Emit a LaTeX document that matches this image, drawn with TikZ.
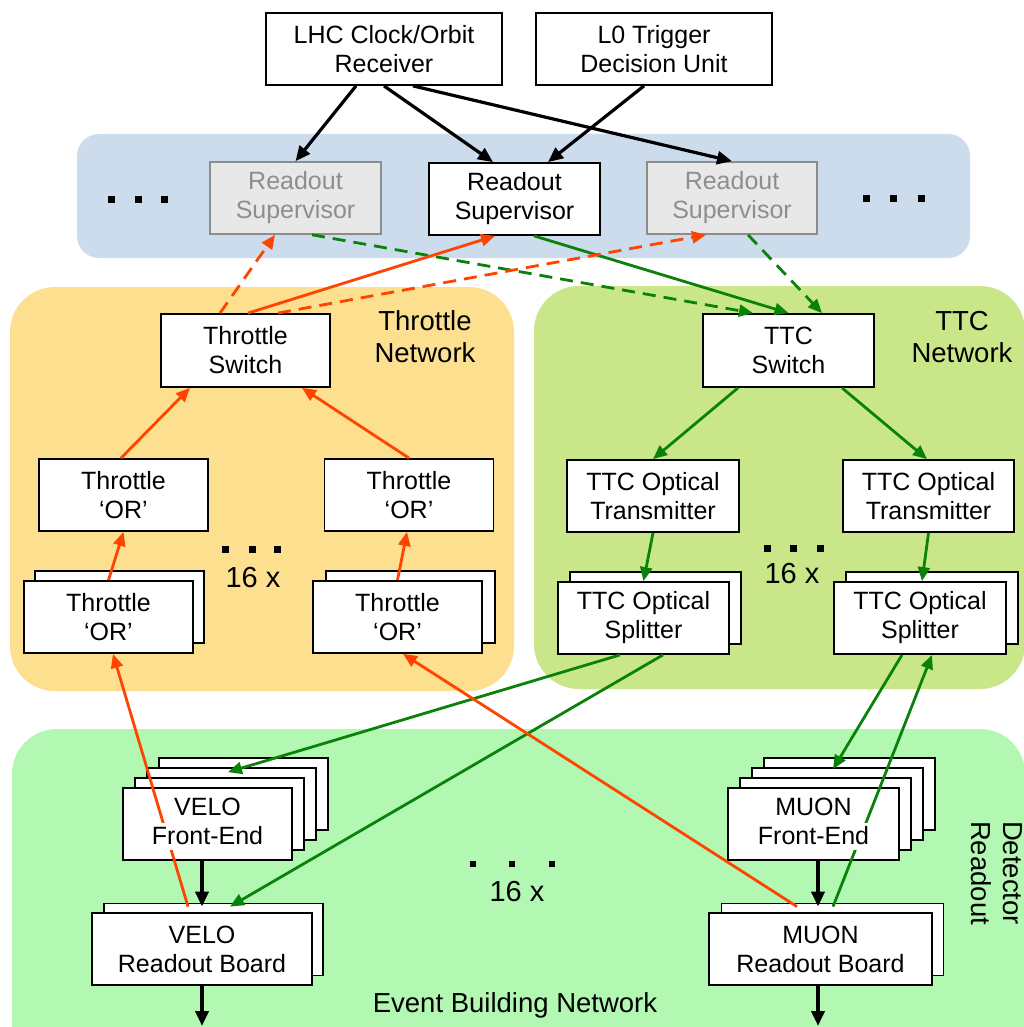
\documentclass[tikz,border=0pt]{standalone}
\usepackage{fontspec}
\setmainfont{Liberation Sans}
\usetikzlibrary{arrows.meta,calc}
\definecolor{bandblue}{HTML}{CCDCEC}
\definecolor{bandorange}{HTML}{FCDF8F}
\definecolor{bandttc}{HTML}{C9E789}
\definecolor{banddet}{HTML}{B2F8B2}
\definecolor{linered}{HTML}{FF4300}
\definecolor{linegreen}{HTML}{0A820A}
\definecolor{boxgray}{HTML}{8C8C8C}
\definecolor{fillgray}{HTML}{E8E8E8}
\definecolor{textgray}{HTML}{8E8E8E}
\setlength{\fboxsep}{0pt}
\begin{document}
\begin{tikzpicture}[x=1pt,y=-1pt,
  txt/.style={font=\fontsize{25}{29}\selectfont, align=center, inner sep=0pt},
  lbl/.style={font=\fontsize{27.5}{32}\selectfont, align=center, inner sep=0pt},
  cnt/.style={font=\fontsize{29}{32}\selectfont, inner sep=0pt},
  box/.style={txt, draw=black, line width=1.8pt, fill=white, minimum height=72, minimum width=169},
  graybox/.style={box, draw=boxgray, fill=fillgray, text=textgray, line width=1.6pt},
  conn/.style={line width=2.8pt, -{Triangle[length=14pt,width=12pt]}},
  blk/.style={line width=3.2pt, -{Triangle[length=15pt,width=13pt]}, color=black},
  blkv/.style={line width=4pt, -{Triangle[length=15pt,width=13pt]}, color=black},
  rd/.style={conn, color=linered},
  gr/.style={conn, color=linegreen},
  dsh/.style={dash pattern=on 13pt off 8pt},
  band/.style={rounded corners=45pt}
]
\useasboundingbox (0,0) rectangle (1024,1027);
\fill[white] (0,0) rectangle (1024,1027);

% bands
\fill[bandblue, rounded corners=22pt] (77,134) rectangle (970,258);
\fill[bandorange, band] (10,287) rectangle (514,691);
\fill[bandttc, band] (534,286) rectangle (1025,689);
\fill[banddet, band] (12,729) rectangle (1025,1080);

% top boxes
\node[box, minimum width=236] (lhc) at (384,49) {LHC Clock/Orbit\\Receiver};
\node[box, minimum width=236] (l0) at (654,49) {L0 Trigger\\Decision Unit};
\node[graybox, minimum width=171] (rsl) at (295.5,198) {Readout\\Supervisor};
\node[box, minimum width=171] (rsc) at (514.5,199) {Readout\\Supervisor};
\node[graybox, minimum width=170] (rsr) at (732,198) {Readout\\Supervisor};

% throttle network
\node[box, minimum height=73] (thsw) at (245.5,350.5) {Throttle\\Switch};
\node[box] (torl) at (123.5,495) {Throttle\\‘OR’};
\node[box] (torr) at (409,495) {Throttle\\‘OR’};
\node[box] (tllb) at (119.5,607) {};
\node[box] (tll) at (108.5,617) {Throttle\\‘OR’};
\node[box] (tlrb) at (410.5,607) {};
\node[box] (tlr) at (397.5,617) {Throttle\\‘OR’};

% TTC network
\node[box, minimum width=171, minimum height=73] (ttcsw) at (788.5,350.5) {TTC\\Switch};
\node[box, minimum width=172] (otl) at (653,496) {TTC Optical\\Transmitter};
\node[box, minimum width=171] (otr) at (928.5,496) {TTC Optical\\Transmitter};
\node[box, minimum width=171] (splb) at (655.5,608) {};
\node[box, minimum width=171] (spl) at (643.5,618) {TTC Optical\\Splitter};
\node[box, minimum width=172] (sprb) at (932,608) {};
\node[box, minimum width=172] (spr) at (920,618) {TTC Optical\\Splitter};

% detector readout
\node[box] (vfe3) at (243.5,794) {};
\node[box] (vfe2) at (231.5,804) {};
\node[box] (vfe1) at (219.5,814) {};
\node[box] (velofe) at (207.5,824) {};
\node[box, minimum width=219] (velorbb) at (213.5,939.5) {};
\node[box, minimum width=220] (velorb) at (202,949) {VELO\\Readout Board};
\node[box, minimum width=171] (mfe3) at (849.5,794) {};
\node[box, minimum width=171] (mfe2) at (837.5,804) {};
\node[box, minimum width=171] (mfe1) at (825.5,814) {};
\node[box, minimum width=171] (muonfe) at (813.5,824) {};
\node[box, minimum width=222] (muonrbb) at (832.5,939.5) {};
\node[box, minimum width=223] (muonrb) at (820.5,949) {MUON\\Readout Board};

% black connectors
\draw[blk] ($(lhc.south)+(-28,0)$) -- (rsl.north);
\draw[blk] (lhc.south) -- ($(rsc.north)+(-21.5,0)$);
\draw[blk] ($(lhc.south)+(29,0)$) -- (rsr.north);
\draw[blk] ($(l0.south)+(-10,0)$) -- ($(rsc.north)+(33.5,0)$);

% green from supervisors
\draw[gr,dsh] ($(rsl.south)+(16.5,0)$) -- ($(ttcsw.north)+(-35.5,0)$);
\draw[gr] ($(rsc.south)+(19.5,0)$) -- (ttcsw.north);
\draw[gr,dsh] ($(rsr.south)+(16,0)$) -- ($(ttcsw.north)+(33.5,0)$);

% red to supervisors
\draw[rd,dsh] ($(thsw.north)+(-25.5,0)$) -- ($(rsl.south)+(-20.5,0)$);
\draw[rd] ($(thsw.north)+(2.5,0)$) -- ($(rsc.south)+(-19.5,0)$);
\draw[rd,dsh] ($(thsw.north)+(32.5,0)$) -- ($(rsr.south)+(-26,0)$);

% throttle internal
\draw[rd] (tll.north) -- (torl.south);
\draw[rd] (tlr.north) -- ($(torr.south)+(-2,0)$);
\draw[rd] ($(torl.north)+(-2.5,0)$) -- ($(thsw.south)+(-55.5,0)$);
\draw[rd] (torr.north) -- ($(thsw.south)+(56.5,0)$);

% TTC internal
\draw[gr] ($(ttcsw.south)+(-50.5,0)$) -- (otl.north);
\draw[gr] ($(ttcsw.south)+(53.5,0)$) -- ($(otr.north)+(-1.5,0)$);
\draw[gr] (otl.south) -- (spl.north);
\draw[gr] (otr.south) -- ($(spr.north)+(2,0)$);

% cross connections
\draw[gr] ($(spl.south)+(-23.5,0)$) -- ($(velofe.north)+(20.5,-15)$);
\draw[gr] ($(spl.south)+(19.5,0)$) -- ($(velorbb.north)+(16.5,4)$);
\draw[rd] ($(velorbb.north)+(-25.5,4)$) -- ($(tll.south)+(4.5,0)$);
\draw[rd] ($(muonrbb.north)+(-35.5,4)$) -- ($(tlr.south)+(5.5,0)$);
\draw[gr] ($(spr.south)+(-18,0)$) -- ($(muonfe.north)+(19.5,-18)$);
\draw[gr] ($(muonrbb.north)+(0.5,4)$) -- ($(spr.south)+(12,0)$);

% black vertical
\coordinate (veloout) at (202,1026);
\coordinate (muonout) at (818,1026);
\draw[blkv] ($(velofe.south)+(-5.5,0)$) -- ($(velorbb.north)+(-11.5,4)$);
\draw[blkv] (velorb.south) -- (veloout);
\draw[blkv] ($(muonfe.south)+(4.5,0)$) -- ($(muonrbb.north)+(-14.5,4)$);
\draw[blkv] ($(muonrb.south)+(-2.5,0)$) -- (muonout);

% front-end labels
\node[txt] (velofeT) at (velofe) {VELO\\\colorbox{white}{\rule[-6pt]{0pt}{27pt}Front-End}};
\node[txt] (muonfeT) at (muonfe) {MUON\\\colorbox{white}{\rule[-6pt]{0pt}{27pt}Front-End}};

% texts
\node[lbl] (thnet) at (425,337) {Throttle\\Network};
\node[lbl] (ttcnet) at (962,337) {TTC\\Network};
\node[cnt] (n16a) at (253,578) {16 x};
\node[cnt] (n16b) at (792,574) {16 x};
\node[cnt] (n16c) at (517,892) {16 x};
\node[lbl] (ebn) at (515,1005) {Event Building Network};
\node[lbl, rotate=-90] (detro) at (997,873) {Detector\\Readout};

% dots
\foreach \x in {111,138,164} \fill (\x-3.5,195.5) rectangle ++(7,7);
\foreach \x in {866,893,921} \fill (\x-3.5,194.5) rectangle ++(7,7);
\foreach \x in {225,252,277} \fill (\x-3.5,545.5) rectangle ++(7,7);
\foreach \x in {767,793,820} \fill (\x-3.5,544.5) rectangle ++(7,7);
\foreach \x in {473,512,552} \fill (\x-3,861) rectangle ++(6,6);
\end{tikzpicture}
\end{document}
